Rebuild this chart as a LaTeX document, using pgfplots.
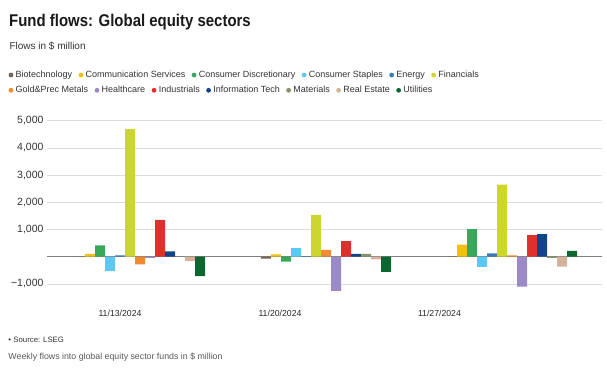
\documentclass[border=0pt]{standalone}
\usepackage{fontspec}
\setmainfont{Liberation Sans}
\newfontfamily\titlefont[FakeStretch=0.88]{Liberation Sans}
\usepackage{pgfplots}
\usepackage{pgfplotstable}
\pgfplotsset{compat=1.18}

\definecolor{cBio}{HTML}{75655A}
\definecolor{cComm}{HTML}{F2C014}
\definecolor{cDisc}{HTML}{3AA85A}
\definecolor{cStap}{HTML}{5BC8F5}
\definecolor{cEner}{HTML}{3D7AB8}
\definecolor{cFin}{HTML}{CCD62E}
\definecolor{cGold}{HTML}{F28B30}
\definecolor{cHlth}{HTML}{9B8AC6}
\definecolor{cInd}{HTML}{E0302E}
\definecolor{cIT}{HTML}{12448A}
\definecolor{cMat}{HTML}{86936A}
\definecolor{cRE}{HTML}{D4B29C}
\definecolor{cUtil}{HTML}{0B6630}
\definecolor{txt}{HTML}{333333}

\pgfplotstableread{
g bio comm disc stap ener fin gold hlth ind it mat re util
0 5 100 420 -530 50 4690 -280 -40 1350 200 5 -160 -715
1 -70 90 -185 320 20 1540 250 -1260 570 100 100 -100 -555
2 10 445 1010 -370 125 2650 50 -1100 790 830 -40 -360 210
}\flows

\pgfplotsset{
  mylegend/.style={
    legend style={draw=none, fill=none, inner sep=0pt, outer sep=0pt,
      font=\fontsize{9}{10}\selectfont, text=txt,
      nodes={inner sep=0pt, text height=6.8pt, text depth=1.9pt},
      column sep=0pt,
      /tikz/every odd column/.append style={column sep=2.3pt},
      /tikz/every even column/.append style={column sep=6.4pt}},
    legend cell align=left,
  },
}

\begin{document}
\begin{tikzpicture}
\path[use as bounding box] (0pt,0pt) rectangle (607pt,-368pt);

\node[anchor=base west, inner sep=0pt, text=black!90] at (9pt,-26.7pt)
  {\titlefont\fontsize{17}{20}\selectfont\bfseries Fund flows: Global equity sectors};
\node[anchor=base west, inner sep=0pt, text=txt] at (9.3pt,-49.3pt)
  {\fontsize{10}{12}\selectfont Flows in \$ million};

\begin{axis}[
  at={(47pt,-297.5pt)}, anchor=south west,
  scale only axis, width=555pt, height=182.24pt,
  xmin=-0.5, xmax=2.4839, ymin=-1500, ymax=5200,
  ybar=0pt, bar width=10pt,
  every axis plot post/.append style={legend image code/.code={\fill[##1,draw=none] (0pt,0pt) circle (2.4pt);}},
  axis line style={draw=none},
  major tick length=0pt,
  xtick={-0.1075,0.7527,1.610},
  xticklabels={11/13/2024,11/20/2024,11/27/2024},
  xticklabel style={font=\fontsize{8.7}{10}\selectfont, text=black!85, anchor=base, yshift=-19pt},
  ytick={-1000,1000,2000,3000,4000,5000},
  yticklabels={{\char"2212 1,000},{1,000},{2,000},{3,000},{4,000},{5,000}},
  yticklabel style={font=\fontsize{10.5}{12}\selectfont, text=txt},
  ymajorgrids,
  grid style={color=black!14, line width=0.8pt},
  extra y ticks={0},
  extra y tick labels={},
  extra y tick style={grid style={color=black!50, line width=0.9pt}},
  mylegend,
  legend columns=6,
  legend style={at={(-0.06919,1.2209)}, anchor=west},
]
\addplot[fill=cBio, draw=none] table[x=g, y=bio] {\flows};
\addlegendentry{Biotechnology}
\addplot[fill=cComm, draw=none] table[x=g, y=comm] {\flows};
\addlegendentry{Communication Services}
\addplot[fill=cDisc, draw=none] table[x=g, y=disc] {\flows};
\addlegendentry{Consumer Discretionary}
\addplot[fill=cStap, draw=none] table[x=g, y=stap] {\flows};
\addlegendentry{Consumer Staples}
\addplot[fill=cEner, draw=none] table[x=g, y=ener] {\flows};
\addlegendentry{Energy}
\addplot[fill=cFin, draw=none] table[x=g, y=fin] {\flows};
\addlegendentry{Financials}
\addplot[fill=cGold, draw=none] table[x=g, y=gold] {\flows};
\addplot[fill=cHlth, draw=none] table[x=g, y=hlth] {\flows};
\addplot[fill=cInd, draw=none] table[x=g, y=ind] {\flows};
\addplot[fill=cIT, draw=none] table[x=g, y=it] {\flows};
\addplot[fill=cMat, draw=none] table[x=g, y=mat] {\flows};
\addplot[fill=cRE, draw=none] table[x=g, y=re] {\flows};
\addplot[fill=cUtil, draw=none] table[x=g, y=util] {\flows};
\end{axis}

\begin{axis}[
  at={(47pt,-297.5pt)}, anchor=south west,
  scale only axis, width=555pt, height=182.24pt,
  xmin=0, xmax=1, ymin=0, ymax=1,
  hide axis,
  legend image code/.code={\fill[#1,draw=none] (0pt,0pt) circle (2.4pt);},
  mylegend,
  legend columns=7,
  legend style={at={(-0.06919,1.1370)}, anchor=west},
]
\addlegendimage{fill=cGold, draw=none}
\addlegendentry{Gold\&Prec Metals}
\addlegendimage{fill=cHlth, draw=none}
\addlegendentry{Healthcare}
\addlegendimage{fill=cInd, draw=none}
\addlegendentry{Industrials}
\addlegendimage{fill=cIT, draw=none}
\addlegendentry{Information Tech}
\addlegendimage{fill=cMat, draw=none}
\addlegendentry{Materials}
\addlegendimage{fill=cRE, draw=none}
\addlegendentry{Real Estate}
\addlegendimage{fill=cUtil, draw=none}
\addlegendentry{Utilities}
\end{axis}

\node[anchor=base west, inner sep=0pt, text=txt] at (8.3pt,-342pt)
  {\fontsize{7.8}{9}\selectfont\textbullet\ Source: LSEG};
\node[anchor=base west, inner sep=0pt, text=black!65] at (8.3pt,-359pt)
  {\fontsize{8.8}{10}\selectfont Weekly flows into global equity sector funds in \$ million};
\end{tikzpicture}
\end{document}
